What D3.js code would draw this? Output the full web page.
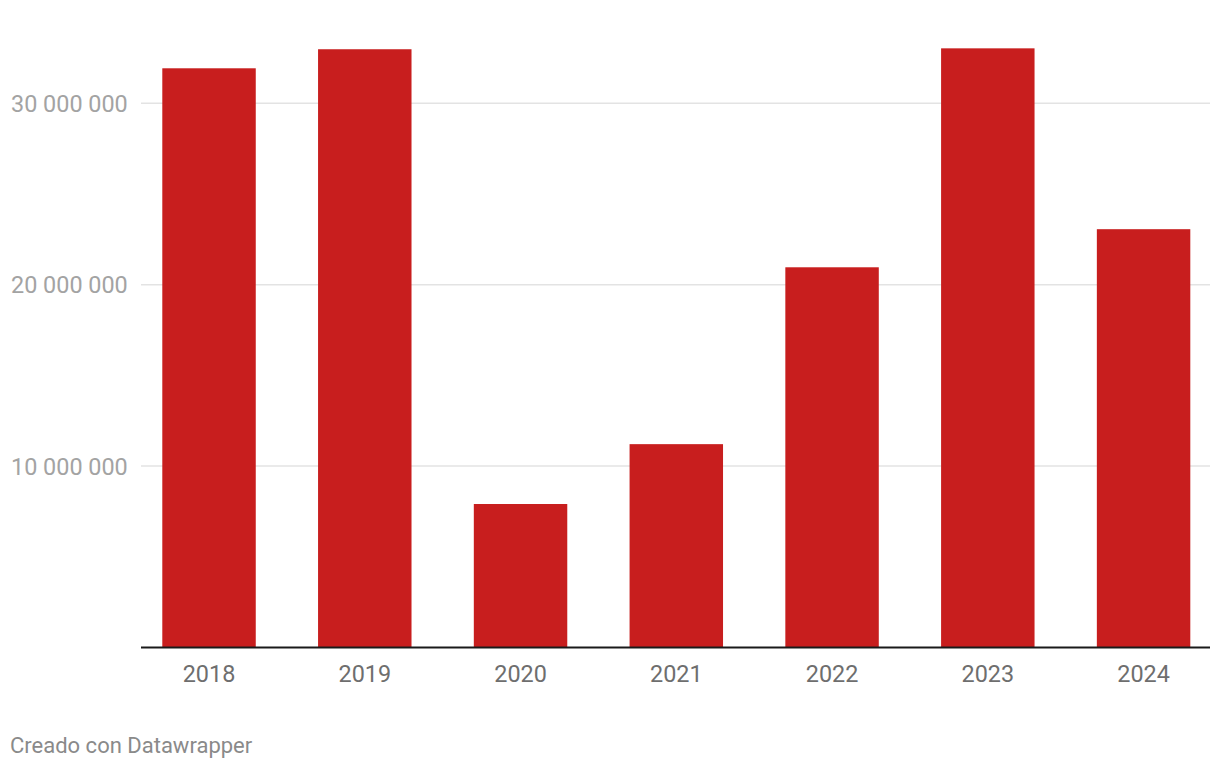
<!DOCTYPE html>
<html>
<head>
<meta charset="utf-8">
<script src="https://cdn.jsdelivr.net/npm/d3@7"></script>
<style>
  html, body { margin: 0; padding: 0; background: #fff; }
  svg text { font-family: Roboto, "Noto Sans", sans-serif; }
</style>
</head>
<body>
<svg id="chart" width="1220" height="770"></svg>
<script>
const categories = ["2018", "2019", "2020", "2021", "2022", "2023", "2024"];
const values = [31930000, 32980000, 7910000, 11210000, 20960000, 33030000, 23060000];
const yTicks = [10000000, 20000000, 30000000];
const yTickLabels = ["10 000 000", "20 000 000", "30 000 000"];
const footerText = "Creado con Datawrapper";

const svg = d3.select("#chart");
const plotLeft = 141, plotRight = 1210, plotBottom = 647.5;

const x = d3.scaleBand().domain(categories).range([plotLeft + 0.8, plotRight + 0.8])
  .paddingInner(0.4).paddingOuter(0.1316);
const y = d3.scaleLinear().domain([0, 30000000]).range([plotBottom, 103.3]);

// gridlines
svg.append("g").selectAll("line").data(yTicks).join("line")
  .attr("x1", plotLeft).attr("x2", plotRight)
  .attr("y1", d => y(d)).attr("y2", d => y(d))
  .attr("stroke", "#e3e3e3").attr("stroke-width", 1.5);

// y labels
svg.append("g").selectAll("text").data(yTicks).join("text")
  .attr("x", 11).attr("y", d => y(d)).attr("dy", "0.36em")
  .attr("font-size", 23.4).attr("fill", "#a3a3a3")
  .text((d, i) => yTickLabels[i]);

// bars
svg.append("g").selectAll("rect").data(values).join("rect")
  .attr("x", (d, i) => x(categories[i]))
  .attr("width", x.bandwidth())
  .attr("y", d => y(d))
  .attr("height", d => y(0) - y(d))
  .attr("fill", "#c81e1e");

// baseline
svg.append("line").attr("x1", plotLeft).attr("x2", plotRight)
  .attr("y1", y(0)).attr("y2", y(0))
  .attr("stroke", "#1a1a1a").attr("stroke-width", 2);

// x labels
svg.append("g").selectAll("text").data(categories).join("text")
  .attr("x", d => x(d) + x.bandwidth() / 2).attr("y", 682)
  .attr("text-anchor", "middle")
  .attr("font-size", 23.4).attr("fill", "#6e6e6e")
  .text(d => d);

// footer
svg.append("text").attr("x", 10).attr("y", 753)
  .attr("font-size", 22).attr("fill", "#8a8a8a")
  .text(footerText);
</script>
</body>
</html>
